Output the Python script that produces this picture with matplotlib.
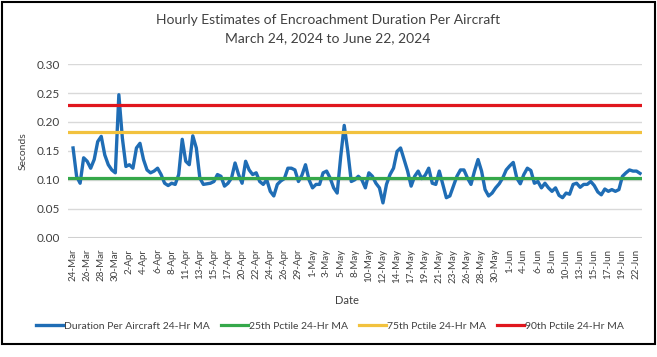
import numpy as np
import matplotlib
matplotlib.use("Agg")
import matplotlib.pyplot as plt
from matplotlib.patches import Rectangle

plt.rcParams['font.family'] = ['Lato', 'DejaVu Sans']

# ---------------- data ----------------
tick_labels = ["24-Mar", "26-Mar", "28-Mar", "30-Mar", "2-Apr", "4-Apr", "6-Apr", "8-Apr",
               "11-Apr", "13-Apr", "15-Apr", "17-Apr", "20-Apr", "22-Apr", "24-Apr", "26-Apr",
               "29-Apr", "1-May", "3-May", "5-May", "8-May", "10-May", "12-May", "14-May",
               "17-May", "19-May", "21-May", "23-May", "26-May", "28-May", "30-May", "1-Jun",
               "4-Jun", "6-Jun", "8-Jun", "10-Jun", "13-Jun", "15-Jun", "17-Jun", "19-Jun", "22-Jun"]

duration_ma = [
    0.155, 0.106, 0.094, 0.138, 0.132, 0.120, 0.135, 0.166, 0.175, 0.143,
    0.126, 0.117, 0.112, 0.247, 0.172, 0.123, 0.126, 0.120, 0.155, 0.163,
    0.135, 0.117, 0.112, 0.115, 0.120, 0.109, 0.094, 0.090, 0.094, 0.092,
    0.109, 0.170, 0.132, 0.126, 0.176, 0.155, 0.103, 0.092, 0.093, 0.094,
    0.097, 0.109, 0.106, 0.089, 0.094, 0.103, 0.129, 0.109, 0.094, 0.132,
    0.117, 0.109, 0.112, 0.097, 0.092, 0.100, 0.080, 0.072, 0.092, 0.098,
    0.102, 0.120, 0.120, 0.117, 0.097, 0.108, 0.126, 0.100, 0.086, 0.092,
    0.092, 0.112, 0.115, 0.103, 0.086, 0.077, 0.140, 0.194, 0.150, 0.097,
    0.100, 0.106, 0.100, 0.086, 0.112, 0.106, 0.094, 0.086, 0.060, 0.092,
    0.109, 0.120, 0.149, 0.155, 0.135, 0.115, 0.089, 0.106, 0.115, 0.102,
    0.108, 0.120, 0.094, 0.092, 0.115, 0.092, 0.069, 0.072, 0.089, 0.106,
    0.117, 0.117, 0.103, 0.092, 0.115, 0.135, 0.115, 0.083, 0.072, 0.077,
    0.086, 0.093, 0.103, 0.117, 0.124, 0.130, 0.103, 0.093, 0.109, 0.120,
    0.116, 0.094, 0.097, 0.086, 0.094, 0.086, 0.080, 0.086, 0.073, 0.069,
    0.077, 0.075, 0.092, 0.094, 0.087, 0.092, 0.092, 0.097, 0.090, 0.079,
    0.074, 0.084, 0.080, 0.083, 0.080, 0.083, 0.106, 0.112, 0.117, 0.115,
    0.115, 0.111,
]

pctile_25 = 0.103
pctile_75 = 0.1825
pctile_90 = 0.2285

# ---------------- figure ----------------
W, H = 657, 357
fig = plt.figure(figsize=(W / 100, H / 100), dpi=100)
fig.patch.set_facecolor('white')

ax = fig.add_axes([68 / W, (H - 237.6) / H, (642 - 68) / W, (237.6 - 64.1) / H])

n = len(duration_ma)
x = np.linspace(0, 40.27, n)
xl = (-0.36, 40.41)

ax.set_ylim(0, 0.30)
ax.set_xlim(*xl)
yt = np.arange(0, 0.301, 0.05)
ax.set_yticks(yt)
ax.set_yticklabels([f"{v:.2f}" for v in yt])
for v in yt[1:]:
    ax.axhline(v, color='#d9d9d9', lw=1.0, zorder=0)
ax.axhline(0, color='#d0d0d0', lw=2.2, zorder=0)

c_blue, c_green, c_yel, c_red = '#1F6DB5', '#35A84A', '#F2C23E', '#E0161E'
ax.plot(x, duration_ma, color=c_blue, lw=2.4, solid_joinstyle='round',
        label='Duration Per Aircraft 24-Hr MA', zorder=3)
ax.plot(xl, [pctile_25] * 2, color=c_green, lw=2.3, label='25th Pctile 24-Hr MA', zorder=4)
ax.plot(xl, [pctile_75] * 2, color=c_yel, lw=2.3, label='75th Pctile 24-Hr MA', zorder=4)
ax.plot(xl, [pctile_90] * 2, color=c_red, lw=2.3, label='90th Pctile 24-Hr MA', zorder=4)

ax.set_xticks(np.arange(len(tick_labels)))
ax.set_xticklabels(tick_labels, rotation=90, fontsize=7, color='#404040')
ax.tick_params(axis='both', length=0)
ax.tick_params(axis='x', pad=8)
ax.tick_params(axis='y', labelsize=8.5, labelcolor='#404040', pad=6)
for s in ax.spines.values():
    s.set_visible(False)

ax.set_ylabel('Seconds', fontsize=7.5, color='#404040', labelpad=6)
fig.text(347 / W, 1 - 300 / H, 'Date', fontsize=8, color='#404040', ha='center', va='center')

fig.text(328 / W, 1 - 20.5 / H, 'Hourly Estimates of Encroachment Duration Per Aircraft',
         fontsize=10, color='#404040', ha='center', va='center')
fig.text(328 / W, 1 - 38 / H, 'March 24, 2024 to June 22, 2024',
         fontsize=10, color='#404040', ha='center', va='center')

leg = fig.legend(loc='center', bbox_to_anchor=(330 / W, 1 - 326 / H), ncol=4, frameon=False,
                 fontsize=7.5, handlelength=2.6, handletextpad=0.15, columnspacing=1.0)
for t in leg.get_texts():
    t.set_color('#404040')

fig.patches.append(Rectangle((2 / W, 1 - 344 / H), 653 / W, 342 / H, transform=fig.transFigure,
                             fill=False, edgecolor='black', lw=1.5))

fig.savefig('out.png', dpi=100)
